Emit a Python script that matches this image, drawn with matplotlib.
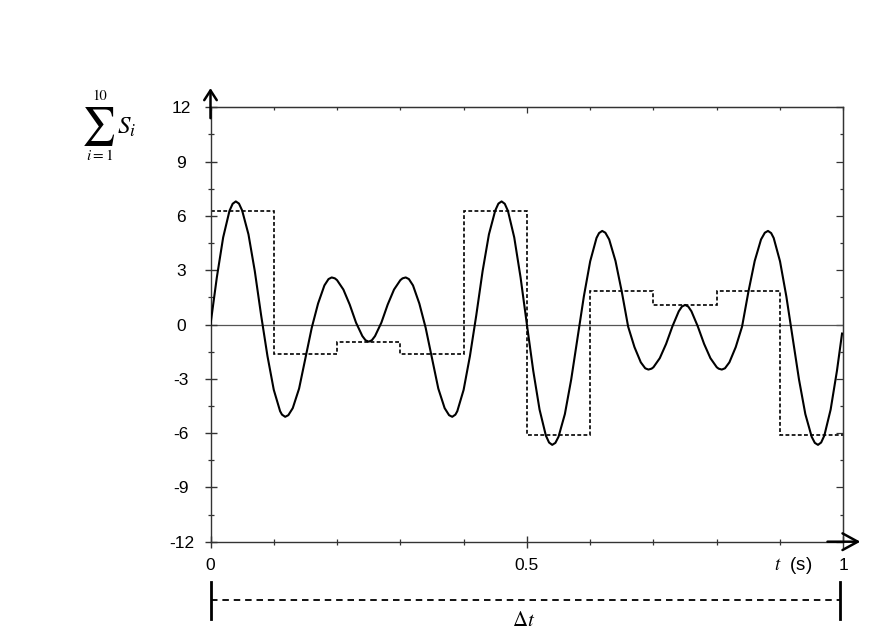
import matplotlib
matplotlib.use("Agg")
import matplotlib.pyplot as plt
from matplotlib.ticker import MultipleLocator, FixedLocator
from matplotlib.transforms import blended_transform_factory

plt.rcParams['font.family'] = ['Liberation Sans', 'DejaVu Sans']
plt.rcParams['mathtext.fontset'] = 'stix'

# Curva suma
t_curve = [0.00, 0.01, 0.02, 0.03, 0.035, 0.04, 0.045, 0.05, 0.06, 0.07, 0.08, 0.09,
           0.10, 0.11, 0.113, 0.118, 0.123, 0.13, 0.14, 0.15, 0.16, 0.17, 0.18, 0.1865,
           0.1915, 0.1965, 0.20, 0.21, 0.22, 0.23, 0.24, 0.245, 0.25, 0.255, 0.26,
           0.27, 0.28, 0.29, 0.30, 0.3035, 0.3085, 0.3135, 0.32, 0.33, 0.34, 0.35,
           0.36, 0.37, 0.377, 0.382, 0.387, 0.39, 0.40, 0.41, 0.42, 0.43, 0.44, 0.45,
           0.455, 0.46, 0.465, 0.47, 0.48, 0.49,
           0.50, 0.51, 0.52, 0.53, 0.535, 0.54, 0.545, 0.55, 0.56, 0.57, 0.58, 0.59,
           0.60, 0.61, 0.614, 0.619, 0.624, 0.63, 0.64, 0.65, 0.66, 0.67, 0.68, 0.687,
           0.692, 0.697, 0.70, 0.71, 0.72, 0.73, 0.74, 0.745, 0.75, 0.755, 0.76, 0.77,
           0.78, 0.79, 0.80, 0.803, 0.808, 0.813, 0.82, 0.83, 0.84, 0.85, 0.86, 0.87,
           0.876, 0.881, 0.886, 0.89, 0.90, 0.91, 0.92, 0.93, 0.94, 0.95, 0.955, 0.96,
           0.965, 0.97, 0.98, 0.99, 0.998]
s_curve = [0.00, 2.60, 4.81, 6.28, 6.67, 6.80, 6.68, 6.30, 4.98, 2.95, 0.51, -1.74,
           -3.61, -4.79, -4.98, -5.10, -5.01, -4.62, -3.54, -1.85, -0.18, 1.16, 2.16, 2.51,
           2.60, 2.55, 2.45, 1.93, 1.10, 0.10, -0.64, -0.87, -0.95, -0.87, -0.64,
           0.10, 1.10, 1.93, 2.45, 2.55, 2.60, 2.51, 2.16, 1.16, -0.18, -1.85,
           -3.54, -4.62, -5.01, -5.10, -4.98, -4.79, -3.61, -1.74, 0.51, 2.95, 4.98, 6.30,
           6.68, 6.80, 6.67, 6.28, 4.81, 2.60,
           0.00, -2.55, -4.70, -6.14, -6.52, -6.65, -6.54, -6.20, -4.95, -3.04, -0.73, 1.55,
           3.49, 4.78, 5.05, 5.17, 5.07, 4.70, 3.51, 1.80, -0.12, -1.25, -2.09, -2.42,
           -2.49, -2.44, -2.36, -1.86, -1.07, -0.10, 0.73, 0.99, 1.08, 0.99, 0.73, -0.10,
           -1.07, -1.86, -2.36, -2.44, -2.49, -2.42, -2.09, -1.25, -0.12, 1.80, 3.51, 4.70,
           5.07, 5.17, 5.05, 4.78, 3.49, 1.55, -0.73, -3.04, -4.95, -6.20, -6.54, -6.65,
           -6.52, -6.14, -4.70, -2.55, -0.50]

# Escalones (discontinuo)
step_edges = [0.0, 0.1, 0.2, 0.3, 0.4, 0.5, 0.6, 0.7, 0.8, 0.9, 1.0]
step_levels = [6.26, -1.65, -0.95, -1.65, 6.26, -6.10, 1.83, 1.05, 1.83, -6.10]

x_ticks = [0, 0.5, 1]
x_tick_labels = ['0', '0.5', '1']
y_ticks = [-12, -9, -6, -3, 0, 3, 6, 9, 12]
y_tick_labels = ['-12', '-9', '-6', '-3', '0', '3', '6', '9', '12']

fig = plt.figure(figsize=(8.74, 6.41), dpi=100)
ax = fig.add_axes([210.5 / 874, 1 - 541.7 / 641, 632.8 / 874, 434.4 / 641])
ax.set_xlim(0, 1)
ax.set_ylim(-12, 12)

ax.axhline(0, color='#555555', lw=0.9, zorder=1)
ax.stairs(step_levels, step_edges, baseline=None, color='black', lw=1.2,
          linestyle=(0, (2.3, 1.4)), zorder=2)
ax.plot(t_curve, s_curve, color='black', lw=1.5, zorder=3)

axis_col = '#333333'
for sp in ax.spines.values():
    sp.set_color(axis_col)
    sp.set_linewidth(1.0)

ax.xaxis.set_major_locator(FixedLocator(x_ticks))
ax.set_xticklabels(x_tick_labels)
ax.xaxis.set_minor_locator(MultipleLocator(0.1))
ax.yaxis.set_major_locator(FixedLocator(y_ticks))
ax.set_yticklabels(y_tick_labels)
ax.yaxis.set_minor_locator(MultipleLocator(1.5))
ax.tick_params(which='major', direction='inout', length=9, width=1.0,
               color=axis_col, labelsize=12.5)
ax.tick_params(which='minor', direction='inout', length=4.5, width=0.9,
               color=axis_col)
ax.tick_params(axis='x', which='major', pad=7.5)
ax.tick_params(axis='y', which='major', pad=16.5)
for lab in ax.get_yticklabels():
    lab.set_horizontalalignment('center')

# ticks hacia dentro arriba y a la derecha
secx = ax.secondary_xaxis('top')
secx.xaxis.set_major_locator(FixedLocator([0.5]))
secx.xaxis.set_minor_locator(MultipleLocator(0.1))
secx.tick_params(which='major', direction='in', length=4.5, width=0.9, color=axis_col, labeltop=False)
secx.tick_params(which='minor', direction='in', length=2.2, width=0.9, color=axis_col)
secx.spines['top'].set_color('#555555')
secy = ax.secondary_yaxis('right')
secy.yaxis.set_major_locator(MultipleLocator(3))
secy.yaxis.set_minor_locator(MultipleLocator(1.5))
secy.tick_params(which='major', direction='in', length=5, width=0.9, color=axis_col, labelright=False)
secy.tick_params(which='minor', direction='in', length=2.5, width=0.9, color=axis_col)
secy.spines['right'].set_color(axis_col)

# flechas de los ejes
ax.annotate('', xy=(0, 13.06), xytext=(0, 11.4), annotation_clip=False,
            arrowprops=dict(arrowstyle='->,head_length=0.7,head_width=0.45',
                            lw=1.8, color='black', shrinkA=0, shrinkB=0))
ax.annotate('', xy=(1.027, -12), xytext=(0.975, -12), annotation_clip=False,
            arrowprops=dict(arrowstyle='->,head_length=1.1,head_width=0.6',
                            lw=1.8, color='black', shrinkA=0, shrinkB=0))

# textos
fig.text(793 / 874, 1 - 566 / 641, r'$t$  (s)', ha='center', va='center', fontsize=13.5)
fig.text(99 / 874, 1 - 126 / 641, '\u2211', family='STIXGeneral', ha='center', va='center', fontsize=27)
fig.text(99.5 / 874, 1 - 96.5 / 641, '10', family='STIXGeneral', ha='center', va='center', fontsize=10.5)
fig.text(99.5 / 874, 1 - 155 / 641, r'$i=1$', ha='center', va='center', fontsize=11)
fig.text(117 / 874, 1 - 127 / 641, r'$S_i$', ha='left', va='center', fontsize=18)
fig.text(524 / 874, 1 - 621 / 641, r'$\Delta t$', ha='center', va='center', fontsize=15)

# cota del intervalo
trans = blended_transform_factory(ax.transData, fig.transFigure)
y_dim = 1 - 600 / 641
ax.plot([0, 0.994], [y_dim, y_dim], transform=trans, color='black', lw=1.3,
        linestyle=(0, (3.6, 2.7)), clip_on=False)
for xb in (0, 0.994):
    ax.plot([xb, xb], [1 - 582 / 641, 1 - 619 / 641], transform=trans,
            color='black', lw=2.0, clip_on=False)

fig.savefig('out.png', dpi=100, facecolor='white')
